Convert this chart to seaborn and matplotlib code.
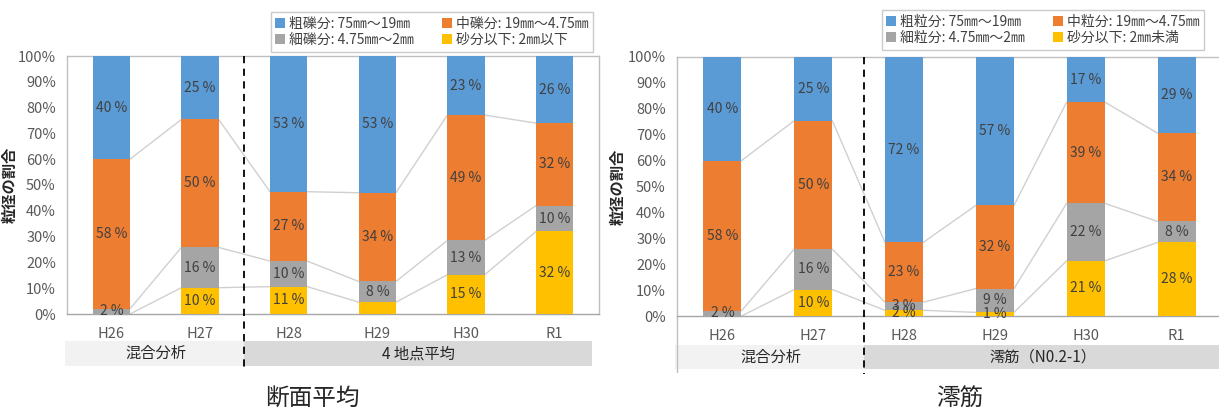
import matplotlib
matplotlib.use("Agg")
import matplotlib.pyplot as plt
from matplotlib.patches import Patch, Rectangle
from matplotlib.transforms import blended_transform_factory
import seaborn as sns

sns.set_style("white")
plt.rcParams['font.family'] = ['Noto Sans CJK JP', 'DejaVu Sans']

years = ["H26", "H27", "H28", "H29", "H30", "R1"]

# 断面平均 (%)
avg_sand = [0.0, 10.2, 10.6, 4.6, 15.2, 32.0]
avg_fine = [2.0, 15.6, 9.9, 8.0, 13.3, 10.0]
avg_medium = [58.0, 49.6, 26.9, 34.4, 48.6, 32.0]
avg_coarse = [40.0, 24.6, 52.6, 53.0, 22.9, 26.0]

# 澪筋 (%)
ch_sand = [0.0, 10.2, 2.2, 1.4, 21.3, 28.4]
ch_fine = [2.0, 15.6, 3.1, 9.2, 22.2, 8.1]
ch_medium = [58.0, 49.6, 23.1, 32.1, 39.1, 34.1]
ch_coarse = [40.0, 24.6, 71.6, 57.3, 17.4, 29.4]

avg_legend = ["粗礫分: 75㎜～19㎜", "中礫分: 19㎜～4.75㎜",
              "細礫分: 4.75㎜～2㎜", "砂分以下: 2㎜以下"]
ch_legend = ["粗粒分: 75㎜～19㎜", "中粒分: 19㎜～4.75㎜",
             "細粒分: 4.75㎜～2㎜", "砂分以下: 2㎜未満"]

avg_groups = ["混合分析", "4 地点平均"]
ch_groups = ["混合分析", "澪筋（N0.2-1）"]

yticks = [0, 10, 20, 30, 40, 50, 60, 70, 80, 90, 100]

colors = ["#5B9BD5", "#ED7D31", "#A5A5A5", "#FFC000"]  # coarse, medium, fine, sand
TXT = "#595959"
BAR_W = 0.42


def draw_panel(ax, sand, fine, medium, coarse, hidden, legend_labels,
               groups, split, box_y, ext_left_line, legend_anchor, ylabel_x):
    layers = [sand, fine, medium, coarse]
    cums = []
    run = [0.0] * len(years)
    for layer in layers:
        run = [a + b for a, b in zip(run, layer)]
        cums.append(run)
    # draw tallest stack first so lower segments sit on top of it
    for cum, col in zip(reversed(cums), colors):
        sns.barplot(x=years, y=cum, color=col, width=BAR_W, saturation=1,
                    ax=ax, zorder=3, linewidth=0)

    # series lines between adjacent bars
    for cum in cums[:3]:
        for i in range(len(years) - 1):
            ax.plot([i + BAR_W / 2, i + 1 - BAR_W / 2], [cum[i], cum[i + 1]],
                    color="#d0d0d0", lw=1.0, zorder=2)

    # segment value labels
    for li, layer in enumerate(layers):
        base = cums[li - 1] if li > 0 else [0.0] * len(years)
        for i, v in enumerate(layer):
            if v <= 0 or (li, i) in hidden:
                continue
            ax.text(i, base[i] + v / 2, f"{v:.0f} %", ha="center", va="center",
                    fontsize=10, color="#404040", zorder=5)

    ax.set_xlim(-0.5, 5.5)
    ax.set_ylim(0, 100)
    ax.set_yticks(yticks)
    ax.set_yticklabels([f"{t}%" for t in yticks], color=TXT, fontsize=10.5)
    ax.tick_params(axis="x", colors=TXT, labelsize=10.5, pad=9, length=0)
    ax.tick_params(axis="y", length=0, pad=8)
    ax.set_xlabel("")
    ax.set_ylabel("粒径の割合", fontsize=11, fontweight="bold", color="#262626")
    ax.yaxis.set_label_coords(ylabel_x, 0.5)
    for side, sp in ax.spines.items():
        sp.set_visible(True)
        sp.set_color("#bfbfbf" if side != "bottom" else "#a6a6a6")
        sp.set_linewidth(1.0)

    tr = blended_transform_factory(ax.transData, ax.transAxes)
    y0, y1 = box_y
    ax.add_patch(Rectangle((-0.52, y1), split + 0.52, y0 - y1, transform=tr,
                           facecolor="#f2f2f2", edgecolor="none", clip_on=False))
    ax.add_patch(Rectangle((split, y1), groups[2] - split, y0 - y1, transform=tr,
                           facecolor="#d9d9d9", edgecolor="none", clip_on=False))
    ax.text((-0.5 + split) / 2, (y0 + y1) / 2, groups[0], transform=tr,
            ha="center", va="center", fontsize=11, color="#262626")
    ax.text((split + min(groups[2], 5.5)) / 2, (y0 + y1) / 2, groups[1],
            transform=tr, ha="center", va="center", fontsize=11, color="#262626")
    ax.plot([split, split], [1.0, y1 - 0.02], transform=tr, color="black",
            lw=1.3, ls=(0, (4, 3)), clip_on=False, zorder=6)
    if ext_left_line:
        ax.plot([-0.5, -0.5], [0, y1 - 0.01], transform=tr, color="#bfbfbf",
                lw=1.0, clip_on=False)

    order = [0, 2, 1, 3]
    handles = [Patch(facecolor=colors[k], edgecolor="none") for k in order]
    leg = ax.legend(handles, [legend_labels[k] for k in order], ncol=2,
                    loc="center", bbox_to_anchor=legend_anchor,
                    bbox_transform=ax.figure.transFigure, fontsize=10,
                    frameon=True, fancybox=False, handlelength=0.7,
                    handleheight=0.7, handletextpad=0.3, columnspacing=2.0,
                    labelspacing=0.15, borderpad=0.35)
    leg.get_frame().set_edgecolor("#bfbfbf")
    leg.get_frame().set_linewidth(1.0)
    for t in leg.get_texts():
        t.set_color("#404040")


fig = plt.figure(figsize=(12.19, 4.12), dpi=100)
ax1 = fig.add_axes([67 / 1219, 98 / 412, 532 / 1219, 258 / 412])
ax2 = fig.add_axes([677 / 1219, 96 / 412, 545 / 1219, 259 / 412])

draw_panel(ax1, avg_sand, avg_fine, avg_medium, avg_coarse, {(0, 3)},
           avg_legend, (avg_groups[0], avg_groups[1], 5.42), 1.5,
           (-0.105, -0.202), False, (432 / 1219, 1 - 32 / 412), -0.092)
draw_panel(ax2, ch_sand, ch_fine, ch_medium, ch_coarse, set(),
           ch_legend, (ch_groups[0], ch_groups[1], 5.6), 1.56,
           (-0.112, -0.205), True, (1043 / 1219, 1 - 30 / 412), -0.095)

fig.text(312 / 1219, 1 - 398 / 412, "断面平均", ha="center", va="center",
         fontsize=17, color="#262626")
fig.text(960 / 1219, 1 - 398 / 412, "澪筋", ha="center", va="center",
         fontsize=17, color="#262626")

fig.savefig("out.png", dpi=100)
